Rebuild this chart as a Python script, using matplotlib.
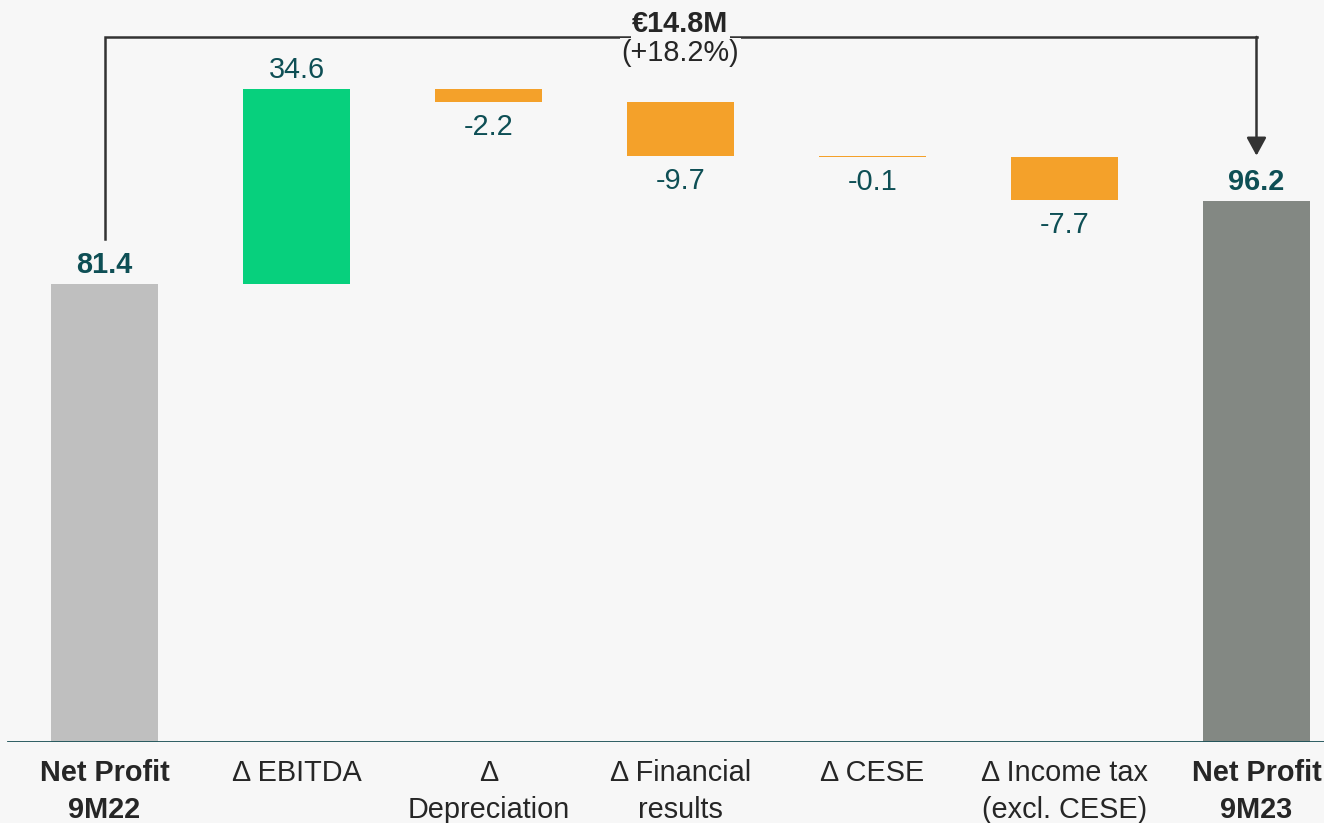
import matplotlib.pyplot as plt

# Datos del gráfico (cascada de beneficio neto)
categorias = ["Net Profit\n9M22", "Δ EBITDA", "Δ\nDepreciation", "Δ Financial\nresults",
              "Δ CESE", "Δ Income tax\n(excl. CESE)", "Net Profit\n9M23"]
valores = [81.4, 34.6, -2.2, -9.7, -0.1, -7.7, 96.2]
es_total = [True, False, False, False, False, False, True]
colores = ["#bfbfbf", "#07d07d", "#f4a12a", "#f4a12a", "#f4a12a", "#f4a12a", "#838883"]

FONDO = "#f7f7f7"
TEAL = "#0e4f55"
OSCURO = "#262626"
FS = 20.8

plt.rcParams['font.family'] = ['Liberation Sans', 'DejaVu Sans']

fig = plt.figure(figsize=(13.24, 8.23), dpi=100, facecolor=FONDO)
ax = fig.add_axes([0, 81 / 823, 1, 742 / 823])
ax.set_facecolor(FONDO)

# Calcular bases de cada barra
bases = []
alturas = []
acumulado = 0
for v, total in zip(valores, es_total):
    if total:
        bases.append(0)
        alturas.append(v)
        acumulado = v
    elif v >= 0:
        bases.append(acumulado)
        alturas.append(v)
        acumulado += v
    else:
        bases.append(acumulado + v)
        alturas.append(-v)
        acumulado += v

x = list(range(len(valores)))
ax.bar(x, alturas, bottom=bases, width=0.557, color=colores, zorder=2)

# Etiquetas de valor
for i, v in enumerate(valores):
    peso = 'bold' if es_total[i] else 'normal'
    if v >= 0:
        ax.annotate(f"{v:.1f}", (i, bases[i] + alturas[i]), xytext=(0, 8),
                    textcoords='offset points', ha='center', va='baseline',
                    fontsize=FS, color=TEAL, fontweight=peso)
    else:
        ax.annotate(f"{v:.1f}", (i, bases[i]), xytext=(0, -8),
                    textcoords='offset points', ha='center', va='top',
                    fontsize=FS, color=TEAL, fontweight=peso)

# Corchete con la variación total
inicio, fin = valores[0], valores[-1]
dif = fin - inicio
pct = dif / inicio * 100
y_corchete = 125.3
sep = 8
ax.plot([0, 0, 6], [inicio + sep, y_corchete, y_corchete], color="#333333", lw=1.8,
        solid_joinstyle='miter', zorder=3)
ax.annotate('', xy=(6, fin + sep), xytext=(6, y_corchete),
            arrowprops=dict(arrowstyle='-|>,head_length=0.55,head_width=0.3',
                            color="#333333", lw=1.8, shrinkA=0, shrinkB=0,
                            mutation_scale=20), zorder=3)
ax.annotate(f"€{dif:.1f}M", (3, y_corchete), xytext=(0, 3.6), textcoords='offset points',
            ha='center', va='baseline', fontsize=FS, fontweight='bold', color=OSCURO,
            zorder=5, bbox=dict(facecolor=FONDO, edgecolor='none', pad=1))
ax.annotate(f"(+{pct:.1f}%)", (3, y_corchete), xytext=(0, -17.3), textcoords='offset points',
            ha='center', va='baseline', fontsize=FS, color=OSCURO, zorder=5,
            bbox=dict(facecolor=FONDO, edgecolor='none', pad=1))

# Línea base
ax.axhline(0, xmin=8 / 1324, xmax=1, color="#1a4f55", lw=2.0, zorder=4)

ax.set_xlim(-104.5 / 192, (1324 - 104.5) / 192)
ax.set_ylim(0, 742 / 5.627)
ax.set_xticks(x)
ax.set_xticklabels(categorias, fontsize=FS, color=OSCURO, linespacing=1.4)
for lbl, total in zip(ax.get_xticklabels(), es_total):
    if total:
        lbl.set_fontweight('bold')
ax.tick_params(axis='x', length=0, pad=12.5)
ax.set_yticks([])
for s in ax.spines.values():
    s.set_visible(False)

fig.savefig("out.png", dpi=100, facecolor=FONDO)
